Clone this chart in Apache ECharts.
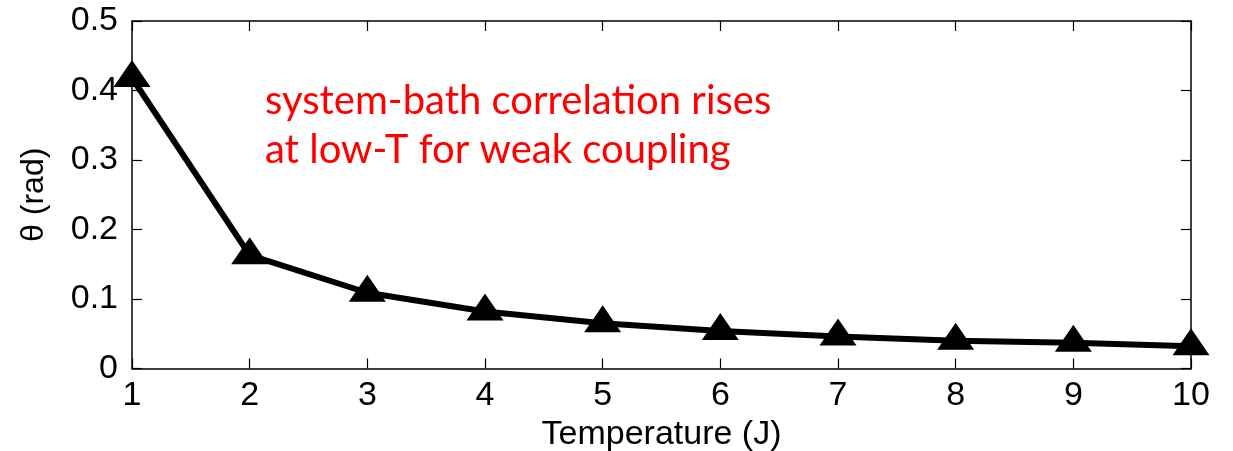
<!DOCTYPE html>
<html>
<head>
<meta charset="utf-8">
<script src="https://cdn.jsdelivr.net/npm/echarts@6/dist/echarts.min.js"></script>
<style>
  html, body { margin: 0; padding: 0; background: #fff; }
  #chart { width: 1233px; height: 451px; }
</style>
</head>
<body>
<div id="chart"></div>
<script>
// Temperature (J) and the system-bath angle θ (rad)
const temperatures = [1, 2, 3, 4, 5, 6, 7, 8, 9, 10];
const theta = [0.418, 0.163, 0.109, 0.082, 0.065, 0.054, 0.046, 0.040, 0.037, 0.032];
const xTicks = { min: 1, max: 10, step: 1 };
const yTicks = { min: 0, max: 0.5, step: 0.1 };
const noteLines = ['system-bath correlation rises', 'at low-T for weak coupling'];

const FONT = "'Liberation Sans', Arial, Helvetica, sans-serif";
const chart = echarts.init(document.getElementById('chart'), null, { renderer: 'canvas' });

// box frame: every side carries inward ticks
const frameAxis = {
  axisLine: { show: true, onZero: false, lineStyle: { color: '#000', width: 1.5 } },
  axisTick: { show: true, inside: true, length: 10, lineStyle: { color: '#000', width: 1.2 } },
  splitLine: { show: false }
};

chart.setOption({
  animation: false,
  backgroundColor: '#fff',
  grid: { left: 132, top: 21, right: 42, bottom: 82.5, containLabel: false, outerBoundsMode: 'none' },
  xAxis: [
    Object.assign({
      type: 'value', position: 'bottom',
      min: xTicks.min, max: xTicks.max, interval: xTicks.step,
      name: 'Temperature (J)', nameLocation: 'middle', nameGap: 49,
      nameTextStyle: { color: '#000', fontSize: 34, fontFamily: FONT },
      axisLabel: { color: '#000', fontSize: 34, fontFamily: FONT, margin: 10 }
    }, frameAxis),
    Object.assign({
      type: 'value', position: 'top',
      min: xTicks.min, max: xTicks.max, interval: xTicks.step,
      axisLabel: { show: false }
    }, frameAxis)
  ],
  yAxis: [
    Object.assign({
      type: 'value', position: 'left',
      min: yTicks.min, max: yTicks.max, interval: yTicks.step,
      name: 'θ (rad)', nameLocation: 'middle', nameGap: 82,
      nameTextStyle: { color: '#000', fontSize: 32, fontFamily: FONT },
      axisLabel: { color: '#000', fontSize: 34, fontFamily: FONT, margin: 14 }
    }, frameAxis),
    Object.assign({
      type: 'value', position: 'right',
      min: yTicks.min, max: yTicks.max, interval: yTicks.step,
      axisLabel: { show: false }
    }, frameAxis)
  ],
  series: [{
    type: 'line',
    xAxisIndex: 0, yAxisIndex: 0,
    data: temperatures.map((t, i) => [t, theta[i]]),
    clip: false,
    lineStyle: { color: '#000', width: 6 },
    symbol: 'triangle',
    symbolSize: [37, 27],
    symbolOffset: [0, -4.5],
    itemStyle: { color: '#000', borderWidth: 0 },
    z: 3
  }],
  graphic: [{
    type: 'text',
    left: 265, top: 77,
    style: {
      text: noteLines.join('\n'),
      fill: '#ff0000',
      font: "40px Lato, 'Open Sans', sans-serif",
      lineHeight: 49
    }
  }]
});
</script>
</body>
</html>
